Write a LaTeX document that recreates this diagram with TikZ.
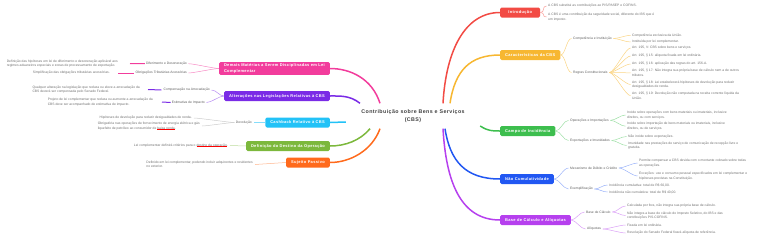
\documentclass[tikz,border=0pt]{standalone}
\usepackage{fontspec}
\setmainfont{Liberation Sans}
\newfontfamily\boxfont[LetterSpace=8]{Liberation Sans}
\usetikzlibrary{backgrounds}
\definecolor{cRed}{HTML}{F24B44}
\definecolor{cYel}{HTML}{F7B731}
\definecolor{cGrn}{HTML}{3DBE4E}
\definecolor{cBlu}{HTML}{2157F2}
\definecolor{cVio}{HTML}{B640EE}
\definecolor{cPnk}{HTML}{F23C9C}
\definecolor{cPur}{HTML}{7A2BE6}
\definecolor{cCya}{HTML}{22C2F7}
\definecolor{cOli}{HTML}{7CB83C}
\definecolor{cOrg}{HTML}{FF6A1C}
\definecolor{cTxt}{HTML}{707070}
\newcommand\redul[1]{\begingroup\setbox0\hbox{#1}\rlap{\textcolor{red}{\rule[-0.9pt]{\wd0}{0.7pt}}}\box0\endgroup}
\tikzset{
  mainbox/.style={fill=#1, rounded corners=1.5pt, text=white,
    font=\boxfont\bfseries\fontsize{4}{5.2}\selectfont, inner xsep=5pt, inner ysep=2pt,
    minimum height=10pt, minimum width=40pt, align=left},
  leaf/.style={text=cTxt, font=\fontsize{3.35}{4.5}\selectfont, inner sep=0pt, align=left},
  sublbl/.style={leaf, text=cTxt!85!black},
  hub/.style={font=\boxfont\bfseries\fontsize{5.3}{7.4}\selectfont, text=black!75, align=center,
    inner sep=0pt, minimum width=134pt, minimum height=25pt},
  trunk/.style={line width=1.5pt, draw=#1},
  twig/.style={line width=0.5pt, draw=#1},
  curvy/.style={to path={.. controls +(5,0) and +(-5,0) .. (\tikztotarget)}},
  lcurvy/.style={to path={.. controls +(-5,0) and +(5,0) .. (\tikztotarget)}},
}
\begin{document}
\begin{tikzpicture}[x=1pt,y=-1pt]
\useasboundingbox (0,0) rectangle (768,241);
% centre
\node[hub] (c) at (413,116) {Contribuição sobre Bens e Serviços\\(CBS)};
% right boxes
\node[mainbox=cRed, anchor=west] (intro) at (500,12.5) {Introdução};
\node[mainbox=cYel, anchor=west] (carac) at (500,55) {Características da CBS};
\node[mainbox=cGrn, anchor=west] (campo) at (500,131) {Campo de Incidência};
\node[mainbox=cBlu, anchor=west] (naoc) at (500,179) {Não Cumulatividade};
\node[mainbox=cVio, anchor=west] (base) at (500,220) {Base de Cálculo e Alíquotas};
% intro leaves
\node[leaf, anchor=west] (i1) at (548,6) {A CBS substitui as contribuições ao PIS/PASEP e COFINS.};
\node[leaf, anchor=west] (i2) at (548,17) {A CBS é uma contribuição da seguridade social, diferente do IBS que é\\um imposto.};
% caracteristicas
\node[sublbl, anchor=west] (ci) at (573,38.5) {Competência e Instituição};
\node[sublbl, anchor=west] (rc) at (573,72.5) {Regras Constitucionais};
\node[leaf, anchor=west] (ci1) at (632,35.3) {Competência exclusiva da União.};
\node[leaf, anchor=west] (ci2) at (632,42) {Instituída por lei complementar.};
\node[leaf, anchor=west] (rc1) at (632,48) {Art. 195, V: CBS sobre bens e serviços.};
\node[leaf, anchor=west] (rc2) at (632,56) {Art. 195, § 15: alíquota fixada em lei ordinária.};
\node[leaf, anchor=west] (rc3) at (632,64) {Art. 195, § 16: aplicação das regras do art. 156-A.};
\node[leaf, anchor=west] (rc4) at (632,72.8) {Art. 195, § 17: Não integra sua própria base de cálculo nem a de outros\\tributos.};
\node[leaf, anchor=west] (rc5) at (632,84.5) {Art. 195, § 18: Lei estabelecerá hipóteses de devolução para reduzir\\desigualdades de renda.};
\node[leaf, anchor=west] (rc6) at (632,95.7) {Art. 195, § 19: Devolução não computada na receita corrente líquida da\\União.};
% campo
\node[sublbl, anchor=west] (oi) at (570,120.3) {Operações e Importações};
\node[sublbl, anchor=west] (ei) at (570,140.5) {Exportações e Imunidades};
\node[leaf, anchor=west] (o1) at (627,115) {Incide sobre operações com bens materiais ou imateriais, inclusive\\direitos, ou com serviços.};
\node[leaf, anchor=west] (o2) at (627,126.2) {Incide sobre importação de bens materiais ou imateriais, inclusive\\direitos, ou de serviços.};
\node[leaf, anchor=west] (e1) at (628,136.5) {Não incide sobre exportações.};
\node[leaf, anchor=west] (e2) at (628,145.5) {Imunidade nas prestações de serviço de comunicação de recepção livre e\\gratuita.};
% nao cumulatividade
\node[sublbl, anchor=west] (mdc) at (570,168) {Mecanismo de Débito e Crédito};
\node[sublbl, anchor=west] (ex) at (570,189) {Exemplificação};
\node[leaf, anchor=west] (m1) at (639,163) {Permite compensar a CBS devida com o montante cobrado sobre todas\\as operações.};
\node[leaf, anchor=west] (m2) at (639,176) {Exceções: uso e consumo pessoal especificados em lei complementar e\\hipóteses previstas na Constituição.};
\node[leaf, anchor=west] (x1) at (609,185) {Incidência cumulativa: total de R\$ 60,00.};
\node[leaf, anchor=west] (x2) at (609,192) {Incidência não cumulativa: total de R\$ 40,00.};
% base
\node[sublbl, anchor=west] (bc) at (586,212) {Base de Cálculo};
\node[sublbl, anchor=west] (al) at (587,229) {Alíquotas};
\node[leaf, anchor=west] (b1) at (627,206) {Calculada por fora, não integra sua própria base de cálculo.};
\node[leaf, anchor=west] (b2) at (627,215.5) {Não integra a base de cálculo do Imposto Seletivo, do IBS e das\\contribuições PIS-COFINS.};
\node[leaf, anchor=west] (a1) at (627,225) {Fixada em lei ordinária.};
\node[leaf, anchor=west] (a2) at (627,233) {Resolução do Senado Federal fixará alíquota de referência.};
% left boxes
\node[mainbox=cPnk, anchor=east] (dem) at (330,68.5) {Demais Matérias a Serem Disciplinadas em Lei\\Complementar};
\node[mainbox=cPur, anchor=east] (alt) at (330,96) {Alterações nas Legislações Relativas à CBS};
\node[mainbox=cCya, anchor=east] (cb) at (330,122.5) {Cashback Relativo à CBS};
\node[mainbox=cOli, anchor=east] (dst) at (330,146) {Definição do Destino da Operação};
\node[mainbox=cOrg, anchor=east] (sp) at (330,162.5) {Sujeito Passivo};
% demais
\node[sublbl, anchor=east] (dd) at (187,63.7) {Diferimento e Desoneração};
\node[sublbl, anchor=east] (ota) at (187,73) {Obrigações Tributárias Acessórias};
\node[leaf, anchor=east] (dd1) at (118,63.5) {Definição das hipóteses em lei de diferimento e desoneração aplicável aos\\regimes aduaneiros especiais e zonas de processamento de exportação.};
\node[leaf, anchor=east] (ota1) at (110,73) {Simplificação das obrigações tributárias acessórias.};
% alteracoes
\node[sublbl, anchor=east] (ca) at (210,90) {Compensação na Arrecadação};
\node[sublbl, anchor=east] (eim) at (205,102.5) {Estimativa de Impacto};
\node[leaf, anchor=east] (ca1) at (140,89.5) {Qualquer alteração na legislação que reduza ou eleve a arrecadação da\\CBS deverá ser compensada pelo Senado Federal.};
\node[leaf, anchor=east] (eim1) at (153,102) {Projeto de lei complementar que reduza ou aumente a arrecadação da\\CBS deve ser acompanhado de estimativa de impacto.};
% cashback
\node[sublbl, anchor=east] (dv) at (252,122.5) {Devolução};
\node[leaf, anchor=east] (dv1) at (192,118) {Hipóteses de devolução para reduzir desigualdades de renda.};
\node[leaf, anchor=east] (dv2) at (200,126) {Obrigatória nas operações de fornecimento de energia elétrica e gás\\liquefeito de petróleo ao consumidor de \redul{baixa renda}.};
% destino
\node[leaf, anchor=east] (dst1) at (228,145.5) {Lei complementar definirá critérios para o \redul{destino da operação}.};
% sujeito
\node[leaf, anchor=east] (sp1) at (253,164.5) {Definido em lei complementar, podendo incluir adquirentes e residentes\\no exterior.};

% trunks right
\draw[trunk=cRed] ([xshift=30pt]c.north) .. controls +(3,-53) and (465,12.5) .. (intro.west);
\draw[trunk=cYel] ([xshift=37pt]c.north) .. controls +(5,-33) and (470,55) .. (carac.west);
\draw[trunk=cGrn] ([yshift=-10pt]c.east) .. controls (488,131) and (492,131) .. (campo.west);
\draw[trunk=cBlu] ([xshift=32pt]c.south) .. controls +(5,32) and (465,179) .. (naoc.west);
\draw[trunk=cVio] ([xshift=30pt]c.south) .. controls +(3,52) and (460,220) .. (base.west);
% trunks left
\draw[trunk=cPnk] ([xshift=-33pt]c.north) .. controls +(-8,-25) and (350,68.5) .. (dem.east);
\draw[trunk=cPur] ([xshift=-53pt]c.north) .. controls +(-10,-8) and (340,96) .. (alt.east);
\draw[trunk=cCya] ([yshift=-6pt]c.west) .. controls +(-8,0) and (338,122.5) .. (cb.east);
\draw[trunk=cOli] ([xshift=-43pt]c.south) .. controls +(-10,12) and (345,146) .. (dst.east);
\draw[trunk=cOrg] ([xshift=-33pt]c.south) .. controls +(-8,22) and (350,162.5) .. (sp.east);
% twigs right
\foreach \t in {i1,i2} \draw[twig=cRed!55] (intro.east) to[curvy] ([xshift=-1.5pt]\t.west);
\foreach \t in {ci,rc} \draw[twig=cYel!60] (carac.east) to[curvy] ([xshift=-1.5pt]\t.west);
\foreach \t in {ci1,ci2} \draw[twig=cYel!60] ([xshift=1.5pt]ci.east) to[curvy] ([xshift=-1.5pt]\t.west);
\foreach \t in {rc1,rc2,rc3,rc4,rc5,rc6} \draw[twig=cYel!60] ([xshift=1.5pt]rc.east) to[curvy] ([xshift=-1.5pt]\t.west);
\foreach \t in {oi,ei} \draw[twig=cGrn!50] (campo.east) to[curvy] ([xshift=-1.5pt]\t.west);
\foreach \t in {o1,o2} \draw[twig=cGrn!50] ([xshift=1.5pt]oi.east) to[curvy] ([xshift=-1.5pt]\t.west);
\foreach \t in {e1,e2} \draw[twig=cGrn!50] ([xshift=1.5pt]ei.east) to[curvy] ([xshift=-1.5pt]\t.west);
\foreach \t in {mdc,ex} \draw[twig=cBlu!45] (naoc.east) to[curvy] ([xshift=-1.5pt]\t.west);
\foreach \t in {m1,m2} \draw[twig=cBlu!45] ([xshift=1.5pt]mdc.east) to[curvy] ([xshift=-1.5pt]\t.west);
\foreach \t in {x1,x2} \draw[twig=cBlu!45] ([xshift=1.5pt]ex.east) to[curvy] ([xshift=-1.5pt]\t.west);
\foreach \t in {bc,al} \draw[twig=cVio!50] (base.east) to[curvy] ([xshift=-1.5pt]\t.west);
\foreach \t in {b1,b2} \draw[twig=cVio!50] ([xshift=1.5pt]bc.east) to[curvy] ([xshift=-1.5pt]\t.west);
\foreach \t in {a1,a2} \draw[twig=cVio!50] ([xshift=1.5pt]al.east) to[curvy] ([xshift=-1.5pt]\t.west);
% twigs left
\foreach \t in {dd,ota} \draw[twig=cPnk!60] (dem.west) to[lcurvy] ([xshift=1.5pt]\t.east);
\draw[line width=1pt, cPnk] ([xshift=-1pt]dd.west) -- ([xshift=12pt]dd1.east);
\draw[line width=1pt, cPnk] ([xshift=-2pt]ota.west) -- ([xshift=8pt]ota1.east);
\foreach \t in {ca,eim} \draw[twig=cPur!55] (alt.west) to[lcurvy] ([xshift=1.5pt]\t.east);
\draw[line width=1pt, cPur] ([xshift=-2pt]ca.west) -- ([xshift=8pt]ca1.east);
\draw[line width=1pt, cPur] ([xshift=-1pt]eim.west) -- ([xshift=9pt]eim1.east);
\draw[twig=cCya!55] (cb.west) -- ([xshift=1.5pt]dv.east);
\foreach \t in {dv1,dv2} \draw[twig=black!20] ([xshift=-1.5pt]dv.west) to[lcurvy] ([xshift=2pt]\t.east);
\draw[twig=cOli!50] (dst.west) -- ([xshift=2pt]dst1.east);
\draw[twig=cOrg!50] (sp.west) -- ([xshift=2pt]sp1.east);
\end{tikzpicture}
\end{document}
